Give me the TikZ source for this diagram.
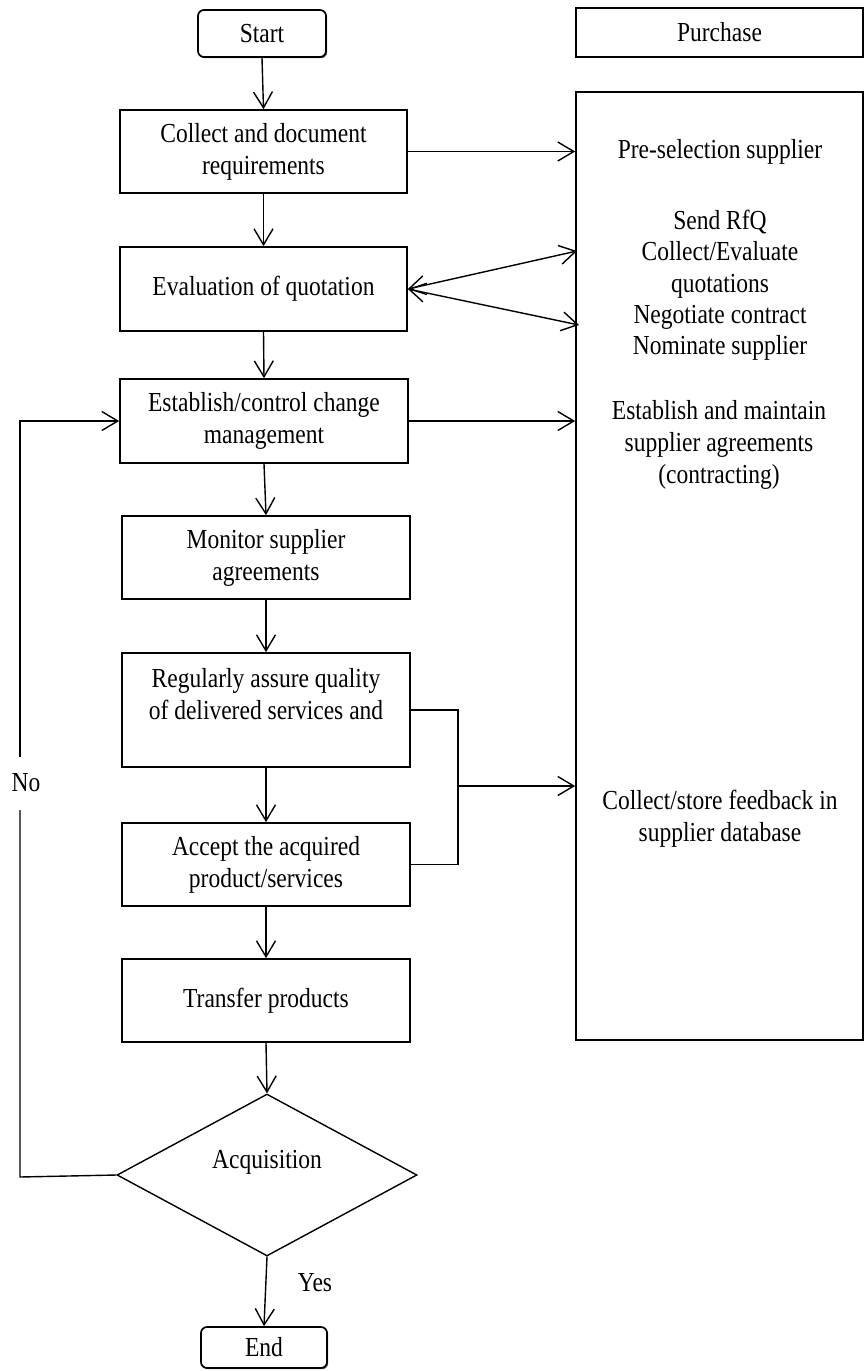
\documentclass[tikz,border=0pt]{standalone}
\usepackage{fontspec}
\setmainfont{Liberation Serif}[FakeStretch=0.855]
\usetikzlibrary{arrows.meta,shapes.geometric,shadows}
\begin{document}
\begin{tikzpicture}[x=1pt,y=1pt,
  txt/.style={font=\fontsize{27.5}{32}\selectfont, align=center, inner sep=0pt},
  box/.style={txt, draw, line width=1.7pt, fill=white, minimum width=288pt,
    drop shadow={shadow xshift=1.2pt, shadow yshift=-1.2pt, fill=black, opacity=0.6}},
  term/.style={box, rounded corners=6pt},
  dia/.style={diamond, draw, line width=1.4pt, inner sep=0pt, minimum width=300pt, minimum height=162pt},
  conn/.style={line width=1.4pt},
  tip/.tip={Straight Barb[length=16pt,width=19pt,line width=1.4pt]},
  arr/.style={conn, -tip},
  dbl/.style={conn, tip-tip}
]
\useasboundingbox (0,0) rectangle (866,-1371);

% left column
\node[term, minimum width=128pt, minimum height=47pt] (start) at (262,-33.5) {Start};
\node[box, minimum width=287pt, minimum height=83pt] (collect) at (263.5,-151.5) {Collect and document\\requirements};
\node[box, minimum width=287pt, minimum height=84pt] (eval) at (263.5,-289) {Evaluation of quotation};
\node[box, minimum height=84pt] (est) at (264,-421) {Establish/control change\\management};
\node[box, minimum height=83pt] (mon) at (266,-557.5) {Monitor supplier\\agreements};
\node[box, minimum height=114pt] (reg) at (266,-710) {Regularly assure quality\\of delivered services and\\\mbox{}};
\node[box, minimum height=83pt] (acc) at (266,-864.5) {Accept the acquired\\product/services};
\node[box, minimum height=83pt] (trans) at (266,-1000.5) {Transfer products};
\node[dia] (acq) at (267,-1175) {};
\node[txt] (acqt) at (267,-1162) {Acquisition};
\node[term, minimum width=126pt, minimum height=41pt] (end) at (264,-1347.5) {End};

% right column
\node[box, minimum width=287pt, minimum height=49pt] (phead) at (719.5,-32.5) {Purchase};
\node[box, minimum width=287pt, minimum height=948pt] (pur) at (719.5,-566) {};
\node[txt] (t1) at (720,-152) {Pre-selection supplier};
\node[txt, font=\fontsize{27.5}{31.3}\selectfont] (t2) at (720,-285.5) {Send RfQ\\Collect/Evaluate\\quotations\\Negotiate contract\\Nominate supplier};
\node[txt] (t3) at (719,-445) {Establish and maintain\\supplier agreements\\(contracting)};
\node[txt] (t4) at (720,-819) {Collect/store feedback in\\supplier database};

% labels
\node[txt] (no) at (26,-783) {No};
\node[txt] (yes) at (315,-1283) {Yes};

% vertical flow
\draw[arr] (start.south) -- (collect.north);
\draw[arr] (collect.south) -- (eval.north);
\draw[arr] (eval.south) -- (est.north);
\draw[arr] (est.south) -- (mon.north);
\draw[arr] (mon.south) -- (reg.north);
\draw[arr] (reg.south) -- (acc.north);
\draw[arr] (acc.south) -- (trans.north);
\draw[arr] (trans.south) -- (acq.north);
\draw[arr] (acq.south) -- (end.north);

% to purchase box
\draw[arr] (collect.east) -- (collect.east -| pur.west);
\coordinate (q1) at (577,-251);
\coordinate (q2) at (579,-325);
\draw[dbl] (eval.east) -- (q1);
\draw[dbl] (eval.east) -- (q2);
\draw[arr] (est.east) -- (est.east -| pur.west);

% feedback
\coordinate (fb) at (457,-786);
\draw[conn] (reg.east) -- ++(47,0) |- (acc.east);
\draw[arr] (fb) -- (fb -| pur.west);

% No loop
\coordinate (lb) at (20,-1177);
\coordinate (gb) at (20,-810);
\coordinate (gt) at (20,-757);
\coordinate (lt) at (20,-421);
\draw[conn] (acq.west) -- (lb) -- (gb);
\draw[arr] (gt) -- (lt) -- (est.west);
\end{tikzpicture}
\end{document}
